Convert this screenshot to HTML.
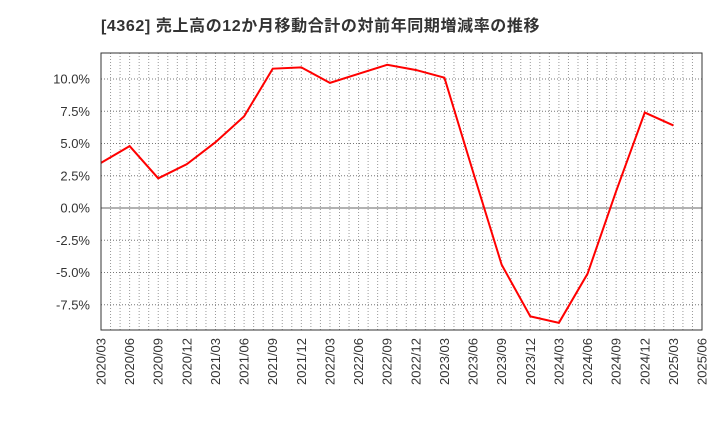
<!DOCTYPE html>
<html><head><meta charset="utf-8"><style>
body{margin:0;background:#fff;font-family:"Liberation Sans","Noto Sans CJK JP",sans-serif;}
</style></head><body>
<svg width="720" height="440" xmlns="http://www.w3.org/2000/svg">
<text x="101" y="31" font-size="16" letter-spacing="0.6" font-weight="bold" fill="#333" font-family="Liberation Sans,Noto Sans CJK JP,sans-serif">[4362]  売上高の12か月移動合計の対前年同期増減率の推移</text>
<g id="grid"></g><g id="axes"></g>
<path id="line" fill="none" stroke="#ff0000" stroke-width="2"/>
<rect x="101" y="53" width="601" height="277" fill="none" stroke="#333" stroke-width="1"/>
</svg>
<script>
const values=[3.5,4.8,2.3,3.4,5.1,7.1,10.8,10.9,9.7,10.4,11.1,10.7,10.1,2.8,-4.4,-8.4,-8.9,-5.1,1.3,7.4,6.4];
const yTicks=[-7.5,-5,-2.5,0,2.5,5,7.5,10];
const xLabels=["2020/03","2020/06","2020/09","2020/12","2021/03","2021/06","2021/09","2021/12","2022/03","2022/06","2022/09","2022/12","2023/03","2023/06","2023/09","2023/12","2024/03","2024/06","2024/09","2024/12","2025/03","2025/06"];
const L=101,R=702,T=53,B=330,months=63;
const x=m=>L+(R-L)*m/months;
const y=v=>208-v*12.9;
const ns="http://www.w3.org/2000/svg";
const g=document.getElementById('grid'),ax=document.getElementById('axes');
for(let m=1;m<months;m++){const l=document.createElementNS(ns,'line');


l.setAttribute('x1',x(m));l.setAttribute('x2',x(m));l.setAttribute('y1',T);l.setAttribute('y2',B);
l.setAttribute('stroke','#999');l.setAttribute('stroke-dasharray','1,2');g.appendChild(l);}
yTicks.forEach(v=>{const l=document.createElementNS(ns,'line');


l.setAttribute('x1',L);l.setAttribute('x2',R);l.setAttribute('y1',y(v));l.setAttribute('y2',y(v));
l.setAttribute('stroke',v===0?'#666':'#777');if(v!==0)l.setAttribute('stroke-dasharray','1,2');g.appendChild(l);
const t=document.createElementNS(ns,'text');


t.setAttribute('x',90);t.setAttribute('y',y(v)+4.5);t.setAttribute('text-anchor','end');t.setAttribute('font-size','13');t.setAttribute('fill','#333');
t.textContent=v.toFixed(1)+'%';ax.appendChild(t);});
xLabels.forEach((s,i)=>{const t=document.createElementNS(ns,'text');


const px=x(i*3)+4.5;t.setAttribute('transform','translate('+px+',338) rotate(-90)');
t.setAttribute('text-anchor','end');t.setAttribute('font-size','13');t.setAttribute('fill','#333');
t.textContent=s;ax.appendChild(t);});
document.getElementById('line').setAttribute('d',values.map((v,i)=>(i?'L':'M')+x(i*3)+','+y(v)).join(''));
</script>
</body></html>
